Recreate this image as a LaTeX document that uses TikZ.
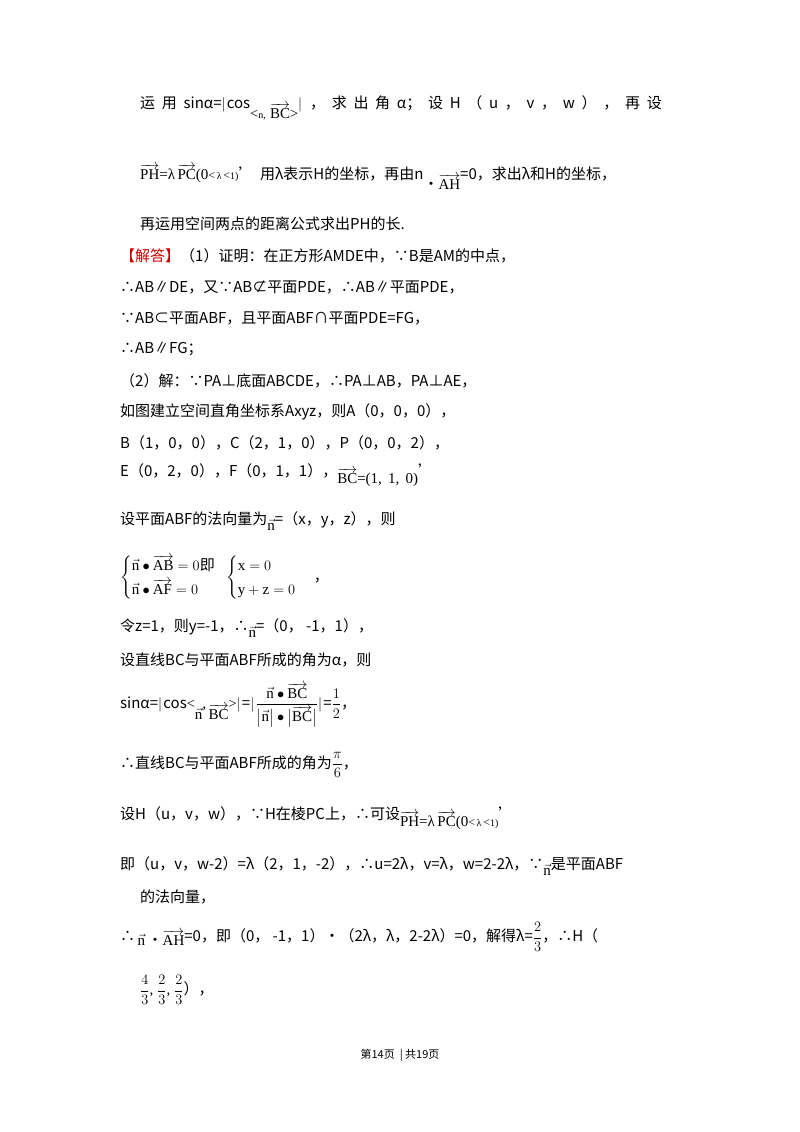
\documentclass[tikz,border=0pt]{standalone}
\usepackage{amsmath}
\usepackage{fontspec}
\setmainfont{Noto Sans CJK SC}
\newfontfamily\sr{Liberation Serif}
\newcommand{\vv}[1]{$\overrightarrow{\text{\sr #1}}$}
\newcommand{\vn}{$\vec{\text{\sr n}}$}
\begin{document}
\begin{tikzpicture}[x=1pt,y=-1pt,
  t/.style={anchor=west,inner sep=0pt,font=\fontsize{15}{18}\selectfont},
  s/.style={anchor=center,inner sep=0pt,font=\fontsize{11}{13}\selectfont}]
\useasboundingbox (0,0) rectangle (800,1132);
\fill[white] (0,0) rectangle (800,1132);
\node[t] (l1) at (140,108) {运\ \ 用\ \ sinα=$\left|\right.$cos\raisebox{-1.2ex}{{\sr\Large <\normalsize n,\, }\vv{BC}{\sr\Large >}}$\left|\right.$\ \ ，\ \ 求\ \ 出\ \ 角\ \ α；\ \ 设\ \ H\ \ （\ \ u\ \ ，\ \ v\ \ ，\ \ w\ \ ）\ \ ，\ \ 再\ \ 设};
\node[t] (l2) at (140,177) {\vv{PH}{\sr =λ}\,\vv{PC}{\sr (0\large<\normalsize\,λ\,\large<\normalsize1)}'\ \ 用λ表示H的坐标，再由n\raisebox{-1.2ex}{•\vv{AH}}=0，求出λ和H的坐标，};
\node[t] (l3) at (140,224) {再运用空间两点的距离公式求出PH的长.};
\node[t] (l4) at (120,256) {\textcolor{red!80!black}{【解答】}（1）证明：在正方形AMDE中，∵B是AM的中点，};
\node[t] (l5) at (120,287) {∴AB∥DE，又∵AB⊄平面PDE，∴AB∥平面PDE，};
\node[t] (l6) at (120,318) {∵AB⊂平面ABF，且平面ABF∩平面PDE=FG，};
\node[t] (l7) at (120,349) {∴AB∥FG；};
\node[t] (l8) at (120,381) {（2）解：∵PA⊥底面ABCDE，∴PA⊥AB，PA⊥AE，};
\node[t] (l9) at (120,412) {如图建立空间直角坐标系Axyz，则A（0，0，0），};
\node[t] (l10) at (120,443) {B（1，0，0），C（2，1，0），P（0，0，2），};
\node[t] (l11) at (120,475) {E（0，2，0），F（0，1，1），\raisebox{-0.8ex}{\vv{BC}{\sr =(1,\,\ 1,\,\ 0)}}'};
\node[t] (l12) at (120,521) {设平面ABF的法向量为\raisebox{-0.8ex}{\vn}=（x，y，z），则};
\node[t] (l13) at (120,578) {\sr $\begin{cases}\vec{\text{n}}\bullet\overrightarrow{\text{AB}}=0\text{\rmfamily 即}\\[2pt] \vec{\text{n}}\bullet\overrightarrow{\text{AF}}=0\end{cases}\!\!\!\begin{cases}\text{x}=0\\[2pt] \text{y}+\text{z}=0\end{cases}$\,\rmfamily ，};
\node[t] (l14) at (120,628) {令z=1，则y=-1，∴\raisebox{-0.8ex}{\vn}=（0，\ -1，1），};
\node[t] (l15) at (120,660) {设直线BC与平面ABF所成的角为α，则};
\node[t] (l16) at (120,705) {sinα=$\left|\right.$cos{\sr\Large <}\raisebox{-1.4ex}{\vn}{\sr ,\,}\raisebox{-1.4ex}{\vv{BC}}{\sr\Large >}$\left|\right.$=$\left|\right.$\sr$\dfrac{\;\vec{\text{n}}\bullet\overrightarrow{\text{BC}}\;}{\big|\vec{\text{n}}\big|\bullet\big|\overrightarrow{\text{BC}}\big|}$\rmfamily $\left|\right.$=\sr$\dfrac{1}{2}$\rmfamily ，};
\node[t] (l17) at (120,765) {∴直线BC与平面ABF所成的角为{\sr$\dfrac{\pi}{6}$}，};
\node[t] (l18) at (120,818) {设H（u，v，w），∵H在棱PC上，∴可设\raisebox{-0.8ex}{\vv{PH}{\sr =λ}\,\vv{PC}{\sr (0\large<\normalsize\,λ\,\large<\normalsize1)}}'};
\node[t] (l19) at (120,866) {即（u，v，w-2）=λ（2，1，-2），∴u=2λ，v=λ，w=2-2λ，∵\raisebox{-0.8ex}{\vn}是平面ABF};
\node[t] (l20) at (140,897) {的法向量，};
\node[t] (l21) at (120,937) {∴\,\raisebox{-0.5ex}{\vn\,•\vv{AH}}=0，即（0，\ -1，1）•（2λ，λ，2-2λ）=0，解得λ={\sr$\dfrac{2}{3}$}，∴H（};
\node[t] (l22) at (140,990) {\sr$\dfrac{4}{3}$, $\dfrac{2}{3}$, $\dfrac{2}{3}$\rmfamily ），};
\node[s] (ft) at (400,1055) {第14页\ \ |\ 共19页};
\end{tikzpicture}
\end{document}
